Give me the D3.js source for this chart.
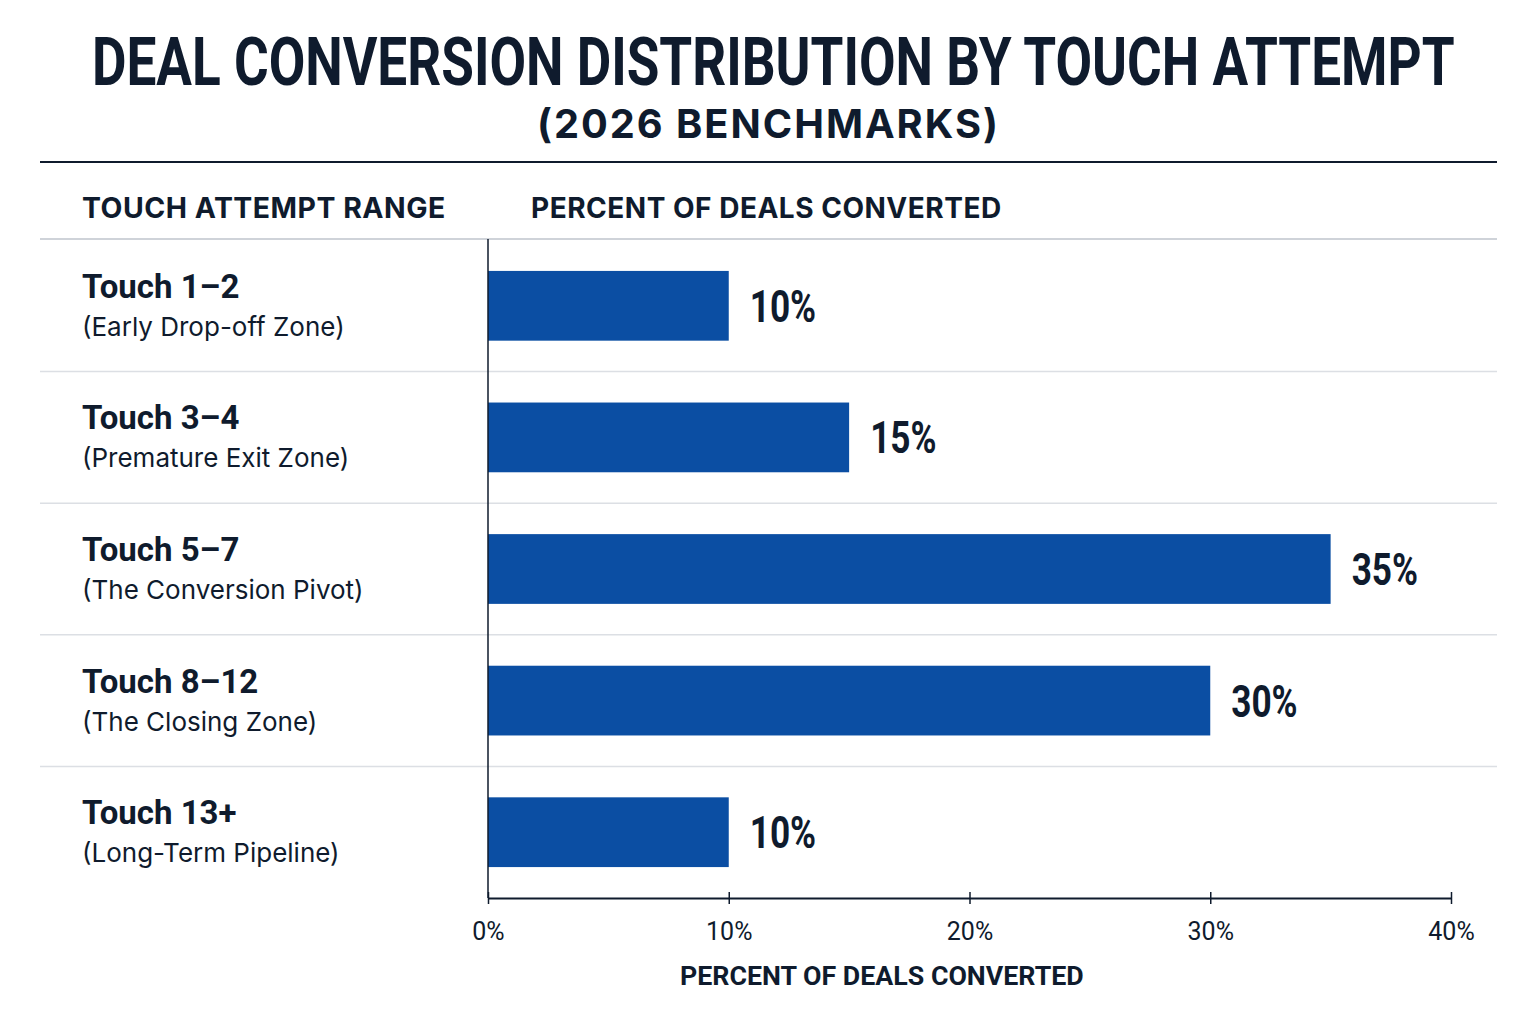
<!DOCTYPE html>
<html>
<head>
<meta charset="utf-8">
<script src="https://cdn.jsdelivr.net/npm/d3@7"></script>
<style>
  body { margin: 0; background: #fff; }
  .cond { font-family: "Roboto", sans-serif; }
  .sans { font-family: "Inter", "Roboto", sans-serif; }
</style>
</head>
<body>
<div id="chart-wrapper"></div>
<script>
// chart data
const rangeLabels = ["Touch 1–2", "Touch 3–4", "Touch 5–7", "Touch 8–12", "Touch 13+"]
const zoneLabels = ["(Early Drop-off Zone)", "(Premature Exit Zone)", "(The Conversion Pivot)", "(The Closing Zone)", "(Long-Term Pipeline)"]
const percentConverted = [10, 15, 35, 30, 10]
const tickValues = [0, 10, 20, 30, 40]

// squeeze or stretch a text horizontally so it spans targetWidth from x
function fitText(sel, x, y, targetWidth) {
  const len = sel.node().getComputedTextLength()
  sel.attr("x", 0).attr("y", 0)
     .attr("transform", `translate(${x}, ${y}) scale(${targetWidth / len}, 1)`)
}

async function drawChart() {
  const width = 1536
  const height = 1024
  const ink = "#0f1b2d"

  const data = rangeLabels.map((r, i) => ({ range: r, zone: zoneLabels[i], value: percentConverted[i] }))

  const svg = d3.select("#chart-wrapper")
    .append("svg")
      .attr("width", width)
      .attr("height", height)

  // title block (squeezed to look condensed)
  const title = svg.append("text")
      .attr("class", "cond")
      .attr("font-size", 66).attr("font-weight", 700)
      .attr("fill", ink)
      .text("DEAL CONVERSION DISTRIBUTION BY TOUCH ATTEMPT")
  fitText(title, 92, 85, 1363)

  const subtitle = svg.append("text")
      .attr("class", "sans")
      .attr("font-size", 40).attr("font-weight", 700)
      .attr("letter-spacing", 2)
      .attr("fill", ink)
      .text("(2026 BENCHMARKS)")
  fitText(subtitle, 537, 138, 463)

  svg.append("line")
      .attr("x1", 40).attr("x2", 1497).attr("y1", 162).attr("y2", 162)
      .attr("stroke", ink).attr("stroke-width", 2)

  // column headers
  const headLeft = svg.append("text")
      .attr("class", "sans")
      .attr("font-size", 28).attr("font-weight", 700)
      .attr("letter-spacing", 0.5)
      .attr("fill", ink)
      .text("TOUCH ATTEMPT RANGE")
  fitText(headLeft, 82, 218, 364)

  const headRight = svg.append("text")
      .attr("class", "sans")
      .attr("font-size", 28).attr("font-weight", 700)
      .attr("letter-spacing", 0.5)
      .attr("fill", ink)
      .text("PERCENT OF DEALS CONVERTED")
  fitText(headRight, 531, 218, 471)

  svg.append("line")
      .attr("x1", 40).attr("x2", 1497).attr("y1", 239).attr("y2", 239)
      .attr("stroke", "#cfd3d9").attr("stroke-width", 2)

  // scales
  const xScale = d3.scaleLinear()
      .domain([0, 40])
      .range([488, 1451])

  const yScale = d3.scaleBand()
      .domain(rangeLabels)
      .range([240, 898])
      .paddingInner(0.47)
      .paddingOuter(0.235)

  const step = yScale.step()

  // row separators
  svg.append("g").selectAll("line")
    .data(rangeLabels.slice(1))
    .join("line")
      .attr("x1", 40).attr("x2", 1497)
      .attr("y1", d => yScale(d) - step * yScale.paddingInner() / 2)
      .attr("y2", d => yScale(d) - step * yScale.paddingInner() / 2)
      .attr("stroke", "#dcdfe4").attr("stroke-width", 1.5)

  // bars
  svg.append("g").selectAll("rect")
    .data(data)
    .join("rect")
      .attr("x", xScale(0))
      .attr("y", d => yScale(d.range))
      .attr("width", d => xScale(d.value) - xScale(0))
      .attr("height", yScale.bandwidth())
      .attr("fill", "#0b4ea3")

  // value labels
  svg.append("g").selectAll("text")
    .data(data)
    .join("text")
      .attr("class", "cond")
      .attr("transform", d => `translate(${xScale(d.value) + 21}, ${yScale(d.range) + yScale.bandwidth() / 2 + 16}) scale(0.8, 1)`)
      .attr("font-size", 44).attr("font-weight", 700)
      .attr("fill", ink)
      .text(d => d.value + "%")

  // row labels
  const rowLabels = svg.append("g").selectAll("g")
    .data(data)
    .join("g")
      .attr("transform", d => `translate(82, ${yScale(d.range) + yScale.bandwidth() / 2})`)

  rowLabels.append("text")
      .attr("class", "cond")
      .attr("y", -8)
      .attr("font-size", 33).attr("font-weight", 700)
      .attr("fill", ink)
      .text(d => d.range)

  rowLabels.append("text")
      .attr("class", "sans")
      .attr("y", 30)
      .attr("font-size", 26)
      .attr("fill", ink)
      .text(d => d.zone)

  // vertical baseline
  svg.append("line")
      .attr("x1", 488).attr("x2", 488).attr("y1", 239).attr("y2", 898)
      .attr("stroke", ink).attr("stroke-width", 1.5)

  // x axis
  const xAxis = d3.axisBottom(xScale)
      .tickValues(tickValues)
      .tickFormat(d => d + "%")
      .tickSize(0)
      .tickPadding(24)

  const axisGroup = svg.append("g")
      .attr("transform", "translate(0, 898)")
      .call(xAxis)

  axisGroup.select(".domain")
      .attr("stroke", ink).attr("stroke-width", 2)

  axisGroup.selectAll(".tick").append("line")
      .attr("y1", -6).attr("y2", 6)
      .attr("stroke", ink).attr("stroke-width", 1.5)

  axisGroup.selectAll(".tick text")
      .attr("class", "cond")
      .attr("font-size", 25)
      .attr("fill", ink)

  const axisTitle = svg.append("text")
      .attr("class", "cond")
      .attr("font-size", 26).attr("font-weight", 700)
      .attr("fill", ink)
      .text("PERCENT OF DEALS CONVERTED")
  fitText(axisTitle, 680, 985, 404)
}

window.onload = function () {
  drawChart()
}
</script>
</body>
</html>
